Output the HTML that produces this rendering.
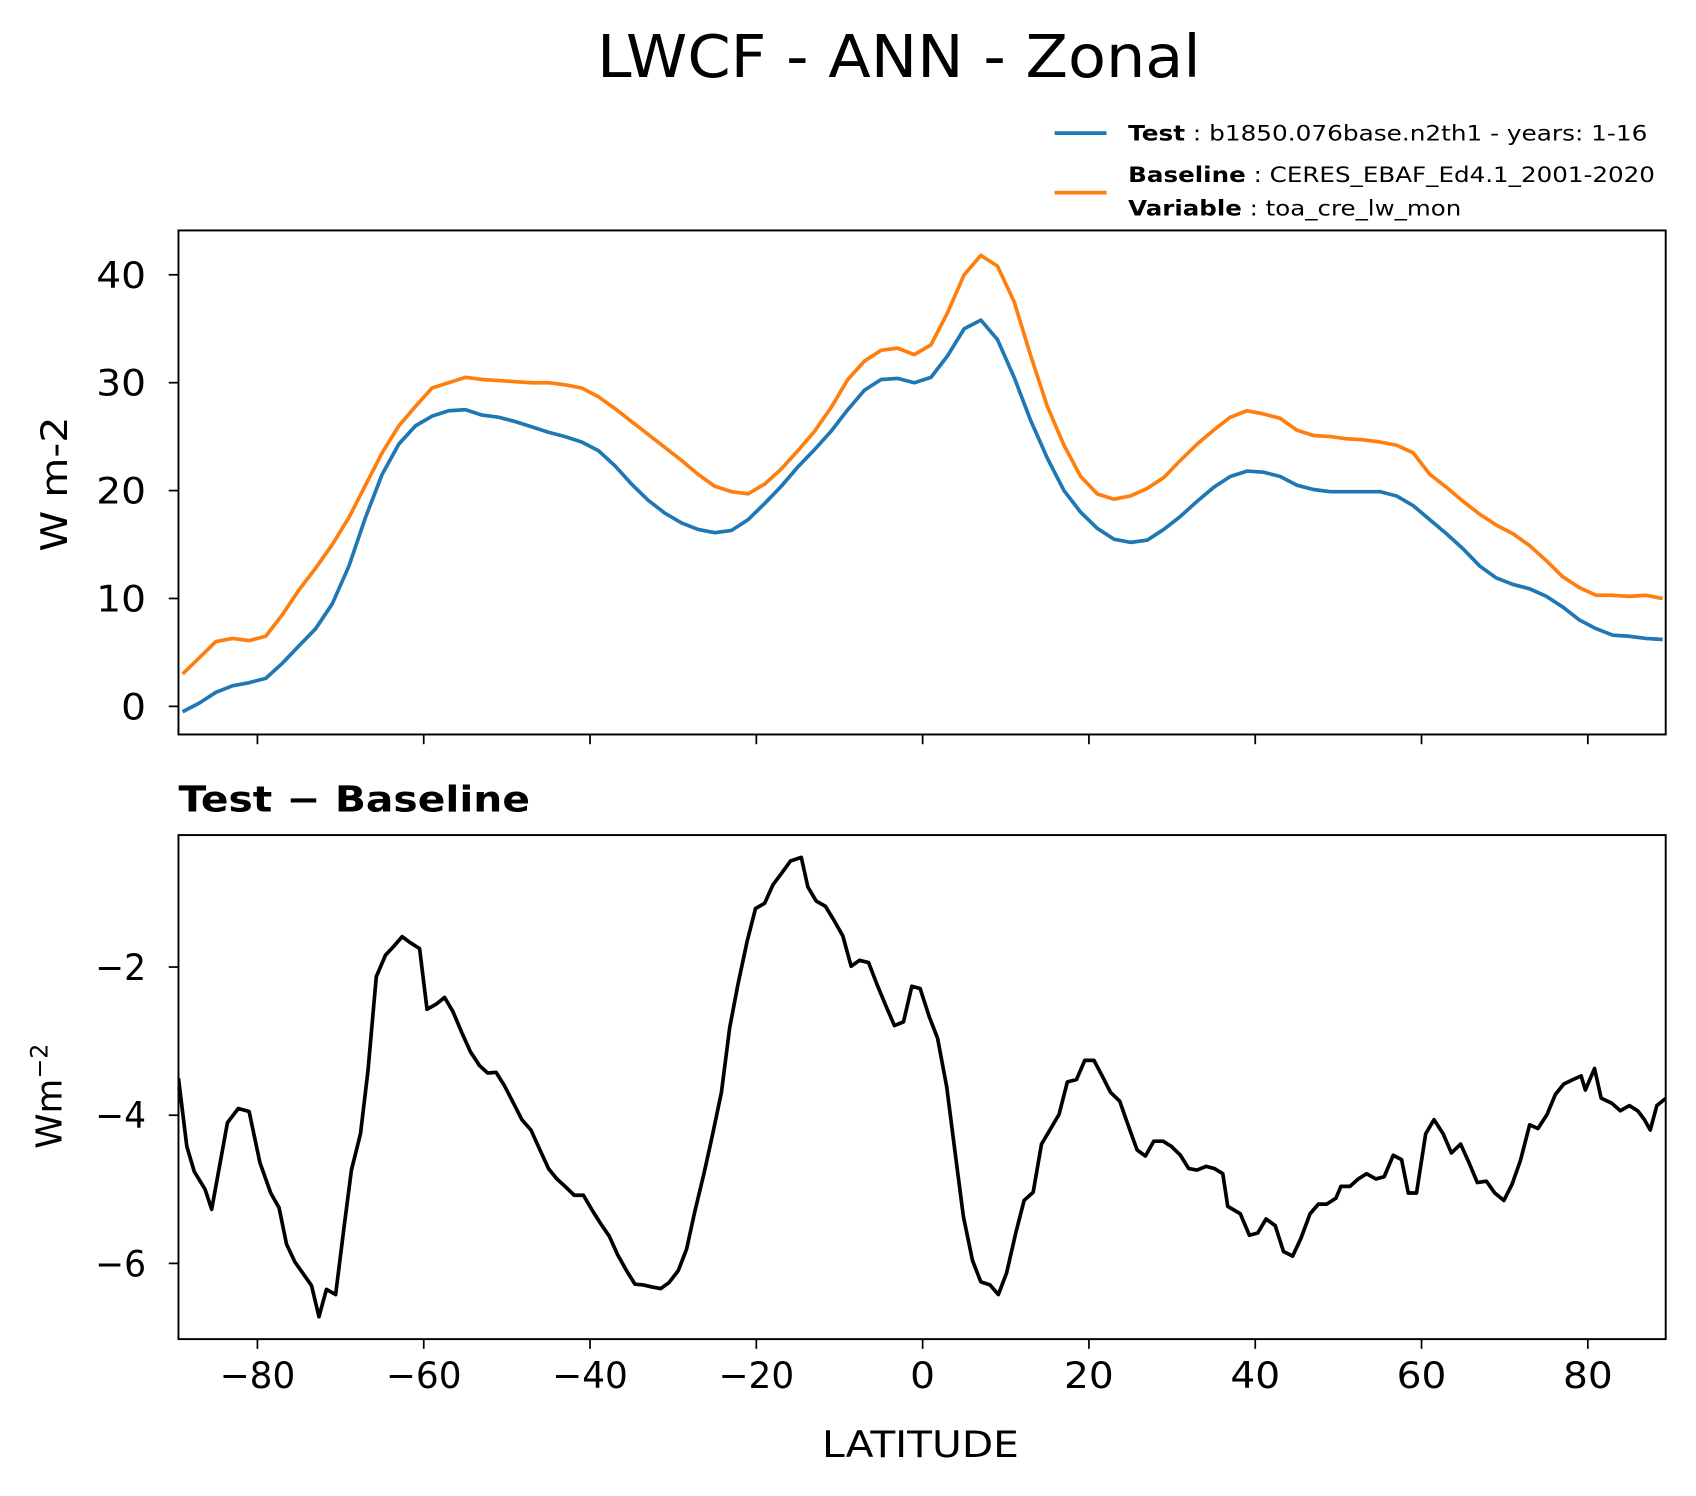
<!DOCTYPE html>
<html><head><meta charset="utf-8">
<style>
html,body{margin:0;padding:0;background:#fff;}
svg{display:block;font-family:"DejaVu Sans","Liberation Sans",sans-serif;}
</style></head>
<body>
<svg id="fig" width="1696" height="1496" viewBox="0 0 1568 1383" xmlns="http://www.w3.org/2000/svg">
<rect width="1568" height="1383" fill="#fff"/>
<text x="552" y="71" font-size="54" textLength="558" lengthAdjust="spacingAndGlyphs">LWCF - ANN - Zonal</text>
<g>
  <line x1="975" y1="123" x2="1023" y2="123" stroke="#1f77b4" stroke-width="3.5"/>
  <text x="1043" y="130" font-size="20" textLength="480" lengthAdjust="spacingAndGlyphs"><tspan font-weight="bold">Test</tspan> : b1850.076base.n2th1 - years: 1-16</text>
  <line x1="975" y1="178" x2="1023" y2="178" stroke="#ff7f0e" stroke-width="3.5"/>
  <text x="1043" y="168" font-size="20" textLength="487" lengthAdjust="spacingAndGlyphs"><tspan font-weight="bold">Baseline</tspan> : CERES_EBAF_Ed4.1_2001-2020</text>
  <text x="1043" y="199" font-size="20" textLength="308" lengthAdjust="spacingAndGlyphs"><tspan font-weight="bold">Variable</tspan> : toa_cre_lw_mon</text>
</g>
<g id="top"></g>
<g id="bot"></g>
<text transform="translate(62,510) rotate(-90)" font-size="34" textLength="125" lengthAdjust="spacingAndGlyphs">W m-2</text>
<text transform="translate(57,1062) rotate(-90)" font-size="33">W<tspan>m</tspan><tspan font-size="22" dy="-13">−2</tspan></text>
<text x="165" y="750" font-size="33" font-weight="bold" textLength="325" lengthAdjust="spacingAndGlyphs">Test − Baseline</text>
<text x="760" y="1347" font-size="34" textLength="182" lengthAdjust="spacingAndGlyphs">LATITUDE</text>
</svg>
<script>
const lats2 = [-89,-87,-85,-83,-81,-79,-77,-75,-73,-71,-69,-67,-65,-63,-61,-59,-57,-55,-53,-51,-49,-47,-45,-43,-41,-39,-37,-35,-33,-31,-29,-27,-25,-23,-21,-19,-17,-15,-13,-11,-9,-7,-5,-3,-1,1,3,5,7,9,11,13,15,17,19,21,23,25,27,29,31,33,35,37,39,41,43,45,47,49,51,53,55,57,59,61,63,65,67,69,71,73,75,77,79,81,83,85,87,89];
const testVals = [-0.5,0.3,1.3,1.9,2.2,2.6,4.0,5.6,7.2,9.5,13,17.5,21.5,24.3,26,26.9,27.4,27.5,27.0,26.8,26.4,25.9,25.4,25.0,24.5,23.7,22.3,20.6,19.1,17.9,17.0,16.4,16.1,16.3,17.3,18.8,20.4,22.2,23.8,25.5,27.5,29.3,30.3,30.4,30.0,30.5,32.5,35.0,35.8,34.0,30.5,26.5,23.0,20.0,18.0,16.5,15.5,15.2,15.4,16.4,17.6,19.0,20.3,21.3,21.8,21.7,21.3,20.5,20.1,19.9,19.9,19.9,19.9,19.5,18.6,17.3,16.0,14.6,13.0,11.9,11.3,10.9,10.2,9.2,8.0,7.2,6.6,6.5,6.3,6.2];
const baseVals = [3.0,4.5,6.0,6.3,6.1,6.5,8.5,10.8,12.8,15.0,17.5,20.5,23.5,26.0,27.8,29.5,30.0,30.5,30.3,30.2,30.1,30.0,30.0,29.8,29.5,28.7,27.6,26.4,25.2,24.0,22.8,21.5,20.4,19.9,19.7,20.6,22.0,23.7,25.5,27.7,30.3,32.0,33.0,33.2,32.6,33.5,36.5,40.0,41.8,40.8,37.5,32.5,27.8,24.2,21.3,19.7,19.2,19.5,20.2,21.2,22.8,24.3,25.6,26.8,27.4,27.1,26.7,25.6,25.1,25.0,24.8,24.7,24.5,24.2,23.5,21.5,20.3,19.0,17.8,16.8,16.0,14.9,13.5,12.0,11.0,10.3,10.3,10.2,10.3,10.0];
const diffLats = [-89.5,-88.5,-87.6,-86.3,-85.5,-83.6,-82.3,-81,-79.7,-78.4,-77.4,-76.5,-75.5,-73.5,-72.6,-71.7,-70.6,-69.6,-68.7,-67.6,-66.7,-65.7,-64.6,-63.6,-62.6,-61.5,-60.5,-59.6,-58.5,-57.5,-56.5,-55.4,-54.4,-53.3,-52.3,-51.3,-50.3,-49.2,-48.2,-47.1,-46.1,-45,-44,-43,-41.9,-40.8,-39.8,-38.8,-37.7,-36.7,-35.6,-34.6,-33.6,-32.5,-31.5,-30.5,-29.4,-28.4,-27.4,-26.3,-25.3,-24.2,-23.2,-22.2,-21.1,-20.1,-19,-18,-17,-15.9,-14.6,-13.8,-12.8,-11.7,-10.7,-9.6,-8.6,-7.6,-6.5,-5.5,-4.4,-3.4,-2.3,-1.3,-0.3,0.8,1.8,2.9,3.9,4.9,6,7,8.1,9.1,10.1,11.2,12.2,13.3,14.3,15.3,16.4,17.4,18.5,19.5,20.6,21.6,22.6,23.7,24.7,25.8,26.8,27.8,28.9,29.9,31,32,33,34.1,35.1,36.1,36.7,38.2,39.3,40.3,41.3,42.4,43.4,44.5,45.5,46.6,47.6,48.6,49.7,50.3,51.4,52.4,53.4,54.5,55.5,56.6,57.6,58.4,59.4,60.5,61.5,62.6,63.6,64.7,65.7,66.7,67.8,68.8,69.9,70.9,71.9,73,74,75.1,76.1,77.1,78.2,79.2,79.7,80.8,81.6,82.9,83.9,85,86,86.8,87.5,88.3,89.4];
const diffVals = [-3.5,-4.42,-4.76,-5.0,-5.27,-4.1,-3.91,-3.95,-4.64,-5.05,-5.25,-5.74,-5.98,-6.3,-6.72,-6.35,-6.42,-5.52,-4.74,-4.25,-3.4,-2.13,-1.84,-1.72,-1.59,-1.68,-1.75,-2.57,-2.5,-2.41,-2.6,-2.89,-3.14,-3.33,-3.43,-3.42,-3.6,-3.84,-4.06,-4.2,-4.45,-4.72,-4.86,-4.96,-5.08,-5.08,-5.27,-5.45,-5.63,-5.88,-6.1,-6.28,-6.29,-6.32,-6.34,-6.26,-6.1,-5.81,-5.3,-4.79,-4.28,-3.69,-2.82,-2.23,-1.65,-1.21,-1.14,-0.89,-0.74,-0.57,-0.52,-0.92,-1.11,-1.18,-1.36,-1.58,-1.99,-1.91,-1.94,-2.23,-2.53,-2.79,-2.74,-2.26,-2.29,-2.67,-2.96,-3.62,-4.5,-5.37,-5.96,-6.25,-6.29,-6.42,-6.13,-5.59,-5.15,-5.04,-4.39,-4.2,-3.99,-3.55,-3.52,-3.26,-3.26,-3.47,-3.69,-3.81,-4.13,-4.47,-4.55,-4.35,-4.35,-4.42,-4.54,-4.72,-4.74,-4.69,-4.72,-4.79,-5.23,-5.33,-5.62,-5.59,-5.4,-5.49,-5.84,-5.9,-5.66,-5.33,-5.2,-5.2,-5.12,-4.96,-4.96,-4.86,-4.79,-4.86,-4.83,-4.54,-4.6,-5.05,-5.05,-4.25,-4.06,-4.25,-4.51,-4.39,-4.64,-4.91,-4.89,-5.05,-5.15,-4.93,-4.61,-4.13,-4.18,-3.99,-3.72,-3.58,-3.52,-3.47,-3.66,-3.37,-3.77,-3.84,-3.94,-3.87,-3.94,-4.06,-4.2,-3.87,-3.77];
const xTicks = [-80,-60,-40,-20,0,20,40,60,80];
const topTicks = [0,10,20,30,40];
const botTicks = [-2,-4,-6];

const NS='http://www.w3.org/2000/svg';
const L=165,R=1540;
const xs = v => 853 + v*7.6875;
const ysTop = v => 653 - v*9.975;
const ysBot = v => 894 - (v+2)*68.5;
function mk(tag, parent, attrs){const e=document.createElementNS(NS,tag);for(const k in attrs)e.setAttribute(k,attrs[k]);parent.appendChild(e);return e;}
function fmt(v){return v<0?'\u2212'+Math.abs(v):String(v);}
function lblW(v){const s=String(Math.abs(v));return s.length*23+(v<0?24:0);}

function panel(g, top, bottom, yfn, yticks, showXLabels, name){
  const clipId='clip-'+name;
  const cp=mk('clipPath', g, {id:clipId});
  mk('rect', cp, {x:L,y:top,width:R-L,height:bottom-top});
  const lines=mk('g', g, {'clip-path':'url(#'+clipId+')'});
  xTicks.forEach(t=>{
    const tk=mk('line', g, {x1:xs(t),x2:xs(t),y1:bottom,y2:bottom+9,stroke:'#000','stroke-width':1.6});
    
    
    if(showXLabels){
      const w=lblW(t);
      const tx=mk('text', g, {x:xs(t)-w/2,y:bottom+45,'font-size':34,textLength:w,lengthAdjust:'spacingAndGlyphs'});
      
      
      tx.textContent=fmt(t);
    }
  });
  yticks.forEach(t=>{
    const y=yfn(t);
    const tk=mk('line', g, {x1:L-9,x2:L,y1:y,y2:y,stroke:'#000','stroke-width':1.6});
    
    
    const w=lblW(t);
    const tx=mk('text', g, {x:L-30-w,y:y+12,'font-size':34,textLength:w,lengthAdjust:'spacingAndGlyphs'});
    
    
    tx.textContent=fmt(t);
  });
  const fr=mk('rect', g, {x:L,y:top,width:R-L,height:bottom-top,fill:'none',stroke:'#000','stroke-width':1.8});
  
  
  return lines;
}
function series(parent, xsArr, vals, yfn, color, name){
  const d=xsArr.map((x,i)=>(i?'L':'M')+xs(x).toFixed(1)+' '+yfn(vals[i]).toFixed(1)).join(' ');
  const p=mk('path', parent, {d:d,fill:'none',stroke:color,'stroke-width':3.4,'stroke-linejoin':'round'});
  
  
}
const tl=panel(document.getElementById('top'),213,679,ysTop,topTicks,false,'top');
series(tl, lats2, testVals, ysTop, '#1f77b4', 'test-line');
series(tl, lats2, baseVals, ysTop, '#ff7f0e', 'baseline-line');
const bl=panel(document.getElementById('bot'),772,1238,ysBot,botTicks,true,'bottom');
series(bl, diffLats, diffVals, ysBot, '#000', 'difference-line');
</script>
</body></html>
